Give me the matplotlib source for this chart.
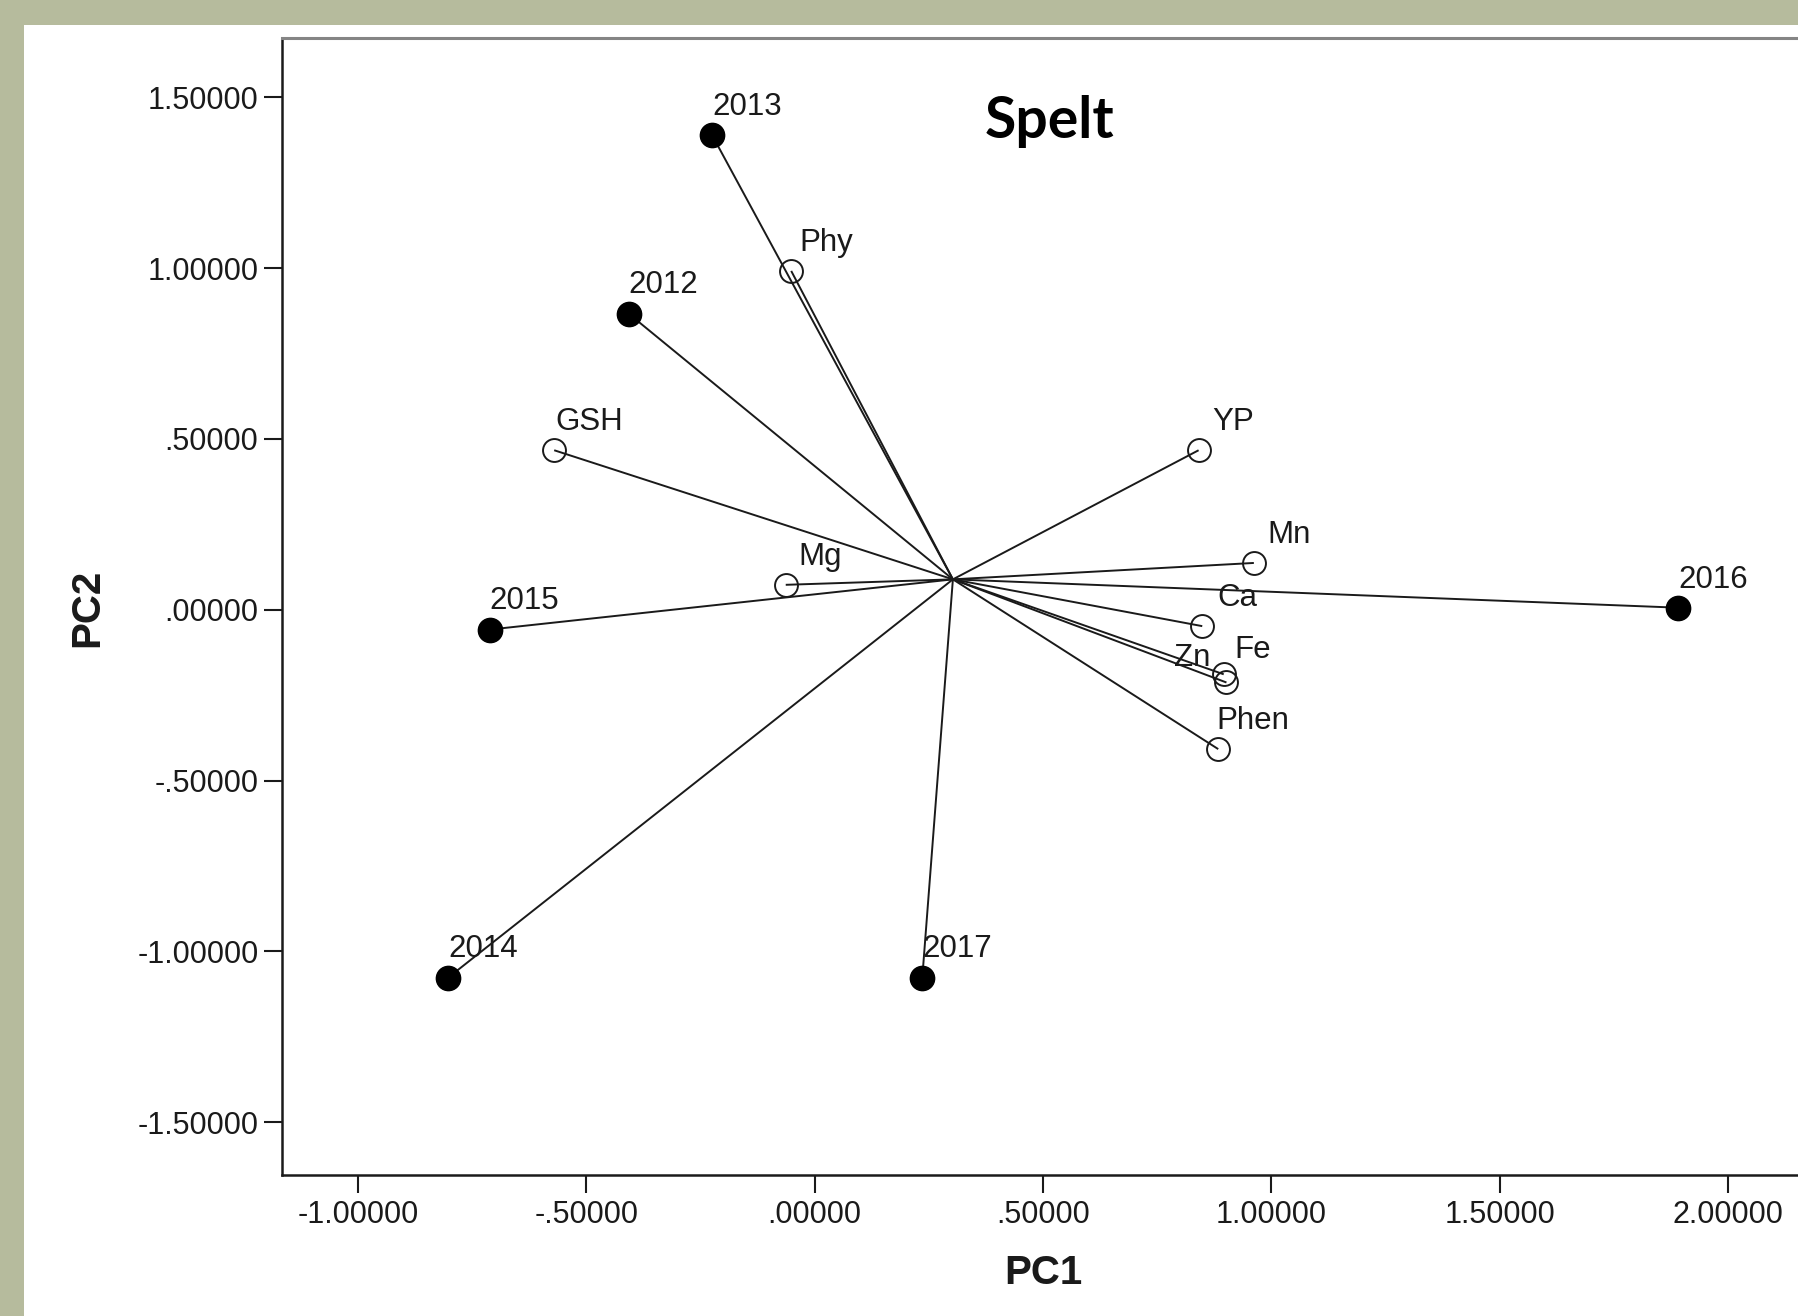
import matplotlib
matplotlib.use("Agg")
import matplotlib.pyplot as plt
from matplotlib.patches import Rectangle
from matplotlib.ticker import FixedLocator, FuncFormatter

# biplot values
years = ["2012", "2013", "2014", "2015", "2016", "2017"]
year_pc1 = [-0.407, -0.224, -0.802, -0.711, 1.891, 0.236]
year_pc2 = [0.867, 1.389, -1.077, -0.058, 0.006, -1.077]

traits = ["Phy", "GSH", "YP", "Mn", "Mg", "Ca", "Fe", "Zn", "Phen"]
trait_pc1 = [-0.051, -0.570, 0.841, 0.962, -0.063, 0.849, 0.896, 0.902, 0.884]
trait_pc2 = [0.992, 0.467, 0.467, 0.137, 0.073, -0.048, -0.189, -0.213, -0.408]

# all rays start from this common point
hub_pc1, hub_pc2 = 0.303, 0.089

xticks = [-1.0, -0.5, 0.0, 0.5, 1.0, 1.5, 2.0]
yticks = [-1.5, -1.0, -0.5, 0.0, 0.5, 1.0, 1.5]

# label offsets in points (default: above right of the marker)
default_off = (25, 14.5)
label_off = {"Zn": (-25, 12), "Fe": (21, 11.5)}

W, H = 1799, 1316
fig = plt.figure(figsize=(W / 100, H / 100), dpi=100)
fig.patch.set_facecolor("#b6bb9d")
fig.patches.append(Rectangle((24 / W, 0), 1, 1 - 25 / H, transform=fig.transFigure,
                             facecolor="white", edgecolor="none", zorder=-10))

x_left, x_right = -1.166, 2.2
px_per_unit = 456.7
ax_left = 282 / W
ax_w = (x_right - x_left) * px_per_unit / W
ax_bottom = 1 - 1175 / H
ax_top = 1 - 38 / H
ax = fig.add_axes([ax_left, ax_bottom, ax_w, ax_top - ax_bottom])
ax.set_zorder(1)
ax.set_xlim(x_left, x_right)
ax.set_ylim(-1.655, 1.674)
ax.set_facecolor("white")

for xs, ys in ((year_pc1, year_pc2), (trait_pc1, trait_pc2)):
    for x, y in zip(xs, ys):
        ax.plot([hub_pc1, x], [hub_pc2, y], color="#1a1a1a", lw=1.4, zorder=2,
                solid_capstyle="butt")

ax.plot(year_pc1, year_pc2, "o", ms=17.5, mfc="black", mec="black", zorder=3)
ax.plot(trait_pc1, trait_pc2, "o", ms=16.5, mfc="none", mec="#1a1a1a", mew=1.4, zorder=3)

lab_font = dict(family="Liberation Sans", size=22.5, color="#1a1a1a")
for names, xs, ys in ((years, year_pc1, year_pc2), (traits, trait_pc1, trait_pc2)):
    for n, x, y in zip(names, xs, ys):
        off = label_off.get(n, default_off)
        ax.annotate(n, (x, y), xytext=off, textcoords="offset points",
                    ha="center", va="baseline", zorder=4, **lab_font)


def spss_fmt(v, pos=None):
    s = f"{v:.5f}"
    if s.startswith("-0."):
        s = "-" + s[2:]
    elif s.startswith("0."):
        s = s[1:]
    if s == "-.00000":
        s = ".00000"
    return s


ax.xaxis.set_major_locator(FixedLocator(xticks))
ax.yaxis.set_major_locator(FixedLocator(yticks))
ax.xaxis.set_major_formatter(FuncFormatter(spss_fmt))
ax.yaxis.set_major_formatter(FuncFormatter(spss_fmt))
ax.tick_params(direction="out", length=13, width=1.5, color="#1a1a1a",
               labelsize=22, labelcolor="#1a1a1a")
ax.tick_params(axis="x", pad=5)
ax.tick_params(axis="y", pad=4)
for lbl in ax.get_xticklabels() + ax.get_yticklabels():
    lbl.set_family("Liberation Sans")

for side in ("left", "bottom"):
    ax.spines[side].set_color("#1a1a1a")
    ax.spines[side].set_linewidth(1.8)
ax.spines["top"].set_color("#858585")
ax.spines["top"].set_linewidth(2.2)
ax.spines["right"].set_visible(False)

ax.set_xlabel("PC1", family="Liberation Sans", fontsize=29, fontweight="bold", color="#1a1a1a")
ax.set_ylabel("PC2", family="Liberation Sans", fontsize=29, fontweight="bold", color="#1a1a1a")
ax.xaxis.set_label_coords((1043 - 282) / (ax_w * W), (1175 - 1273) / (1175 - 38))
ax.yaxis.set_label_coords((87 - 282) / (ax_w * W), (1175 - 608) / (1175 - 38))
ax.xaxis.label.set_va("center")
ax.yaxis.label.set_va("center")

ax.text((1050 - 282) / (ax_w * W), (1175 - 122) / (1175 - 38), "Spelt",
        transform=ax.transAxes, ha="center", va="center",
        family=["Lato", "DejaVu Sans"], fontsize=41, fontweight="bold", color="black")

fig.savefig("out.png", dpi=100, facecolor=fig.get_facecolor())
